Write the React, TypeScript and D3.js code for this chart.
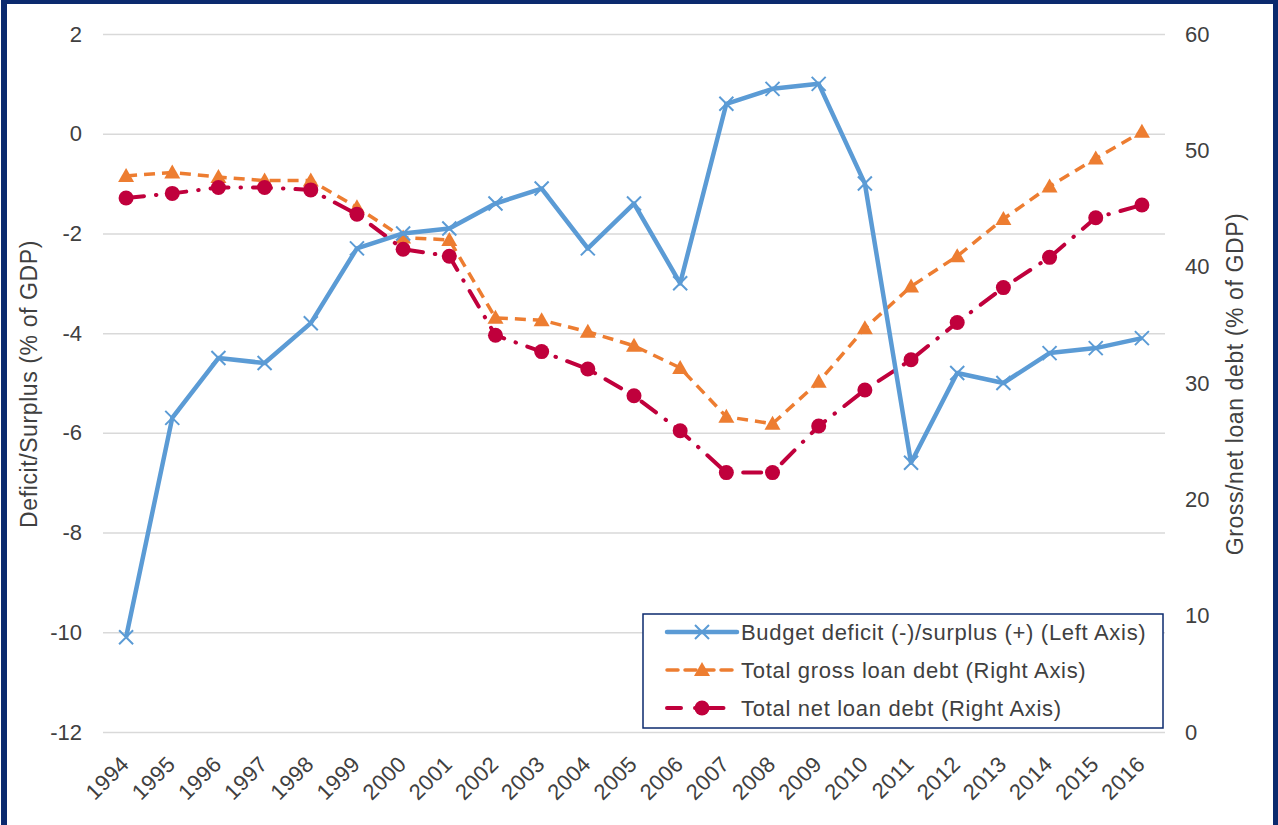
import React, { useEffect, useRef } from "react";
import * as d3 from "d3";

// chart data
const years = ["1994", "1995", "1996", "1997", "1998", "1999", "2000", "2001", "2002", "2003", "2004", "2005", "2006", "2007", "2008", "2009", "2010", "2011", "2012", "2013", "2014", "2015", "2016"];
const budgetBalance = [-10.1, -5.7, -4.5, -4.6, -3.8, -2.3, -2.0, -1.9, -1.4, -1.1, -2.3, -1.4, -3.0, 0.6, 0.9, 1.0, -1.0, -6.6, -4.8, -5.0, -4.4, -4.3, -4.1];
const grossDebt = [47.8, 48.1, 47.7, 47.4, 47.4, 45.1, 42.5, 42.3, 35.6, 35.4, 34.4, 33.2, 31.3, 27.1, 26.5, 30.1, 34.7, 38.3, 40.9, 44.1, 46.9, 49.3, 51.6];
const netDebt = [45.9, 46.3, 46.8, 46.8, 46.6, 44.5, 41.5, 40.9, 34.1, 32.7, 31.2, 28.9, 25.9, 22.3, 22.3, 26.3, 29.4, 32.0, 35.2, 38.2, 40.8, 44.2, 45.3];
const leftTicks = [2, 0, -2, -4, -6, -8, -10, -12];
const rightTicks = [60, 50, 40, 30, 20, 10, 0];
const legendLabels = [
  "Budget deficit (-)/surplus (+) (Left Axis)",
  "Total gross loan debt (Right Axis)",
  "Total net loan debt (Right Axis)",
];

const BLUE = "#5b9bd5";
const ORANGE = "#ed7d31";
const RED = "#c0003c";
const TEXT = "#404040";

const App = () => {
  const ref = useRef<SVGSVGElement>(null);

  useEffect(() => {
    const svg = d3.select(ref.current);
    svg.selectAll("*").remove();

    const W = 1278;
    const H = 825;
    const margin = { top: 34, right: 113, bottom: 93, left: 103 };
    const width = W - margin.left - margin.right;
    const height = H - margin.top - margin.bottom;
    const font = "'Liberation Sans', Arial, sans-serif";

    svg.append("rect").attr("width", W).attr("height", H).attr("fill", "#fff");

    // frame
    svg
      .append("rect")
      .attr("x", 4)
      .attr("y", 1)
      .attr("width", W - 6)
      .attr("height", H + 20)
      .attr("fill", "none")
      .attr("stroke", "#0b2a6e")
      .attr("stroke-width", 6);

    const g = svg.append("g").attr("transform", `translate(${margin.left},${margin.top})`);

    const x = d3.scaleBand().domain(years).range([0, width]);
    const cx = (d: string) => (x(d) as number) + x.bandwidth() / 2;
    const yL = d3.scaleLinear().domain([-12, 2]).range([height, 0]);
    const yR = d3.scaleLinear().domain([0, 60]).range([height, 0]);

    // grid lines
    g.append("g")
      .call(d3.axisLeft(yL).tickValues(leftTicks).tickSize(-width).tickFormat(() => ""))
      .call((s) => s.select(".domain").remove())
      .selectAll("line")
      .attr("stroke", "#d9d9d9")
      .attr("stroke-width", 1.5);

    // left axis labels
    g.append("g")
      .call(d3.axisLeft(yL).tickValues(leftTicks).tickSize(0).tickPadding(21).tickFormat((d) => String(d)))
      .call((s) => s.select(".domain").remove())
      .selectAll("text")
      .attr("font-family", font)
      .attr("font-size", 22)
      .attr("fill", TEXT);

    // right axis labels
    g.append("g")
      .attr("transform", `translate(${width},0)`)
      .call(d3.axisRight(yR).tickValues(rightTicks).tickSize(0).tickPadding(20).tickFormat((d) => String(d)))
      .call((s) => s.select(".domain").remove())
      .selectAll("text")
      .attr("font-family", font)
      .attr("font-size", 22)
      .attr("fill", TEXT);

    // x axis labels
    g.append("g")
      .attr("transform", `translate(0,${height})`)
      .call(d3.axisBottom(x).tickSize(0).tickPadding(0))
      .call((s) => s.select(".domain").remove())
      .selectAll("text")
      .attr("font-family", font)
      .attr("font-size", 22)
      .attr("letter-spacing", 0.4)
      .attr("fill", TEXT)
      .style("text-anchor", "end")
      .attr("x", 0)
      .attr("y", 0)
      .attr("dy", "0.35em")
      .attr("transform", "translate(-1,28) rotate(-45)");

    // axis titles
    svg
      .append("text")
      .attr("transform", `translate(37,${margin.top + height / 2 + 1}) rotate(-90)`)
      .attr("text-anchor", "middle")
      .attr("font-family", font)
      .attr("font-size", 23)
      .attr("letter-spacing", 0.6)
      .attr("fill", TEXT)
      .text("Deficit/Surplus (% of GDP)");

    svg
      .append("text")
      .attr("transform", `translate(1243,${margin.top + height / 2 + 1}) rotate(-90)`)
      .attr("text-anchor", "middle")
      .attr("font-family", font)
      .attr("font-size", 23)
      .attr("letter-spacing", 0.6)
      .attr("fill", TEXT)
      .text("Gross/net loan debt (% of GDP)");

    const line = (vals: number[], y: d3.ScaleLinear<number, number>) =>
      d3.line<number>().x((_, i) => cx(years[i])).y((d) => y(d))(vals);

    const cross = (sel: any, col: string) =>
      sel
        .append("path")
        .attr("d", "M-7,-7L7,7M-7,7L7,-7")
        .attr("stroke", col)
        .attr("stroke-width", 2)
        .attr("fill", "none");
    const triangle = (sel: any, col: string) =>
      sel.append("path").attr("d", "M0,-8L8,6L-8,6Z").attr("fill", col);
    const dot = (sel: any, col: string) =>
      sel.append("circle").attr("r", 7.5).attr("fill", col);

    // gross debt
    g.append("path")
      .attr("d", line(grossDebt, yR))
      .attr("fill", "none")
      .attr("stroke", ORANGE)
      .attr("stroke-width", 3.5)
      .attr("stroke-dasharray", "11,7");
    grossDebt.forEach((v, i) => {
      triangle(g.append("g").attr("transform", `translate(${cx(years[i])},${yR(v)})`), ORANGE);
    });

    // net debt
    g.append("path")
      .attr("d", line(netDebt, yR))
      .attr("fill", "none")
      .attr("stroke", RED)
      .attr("stroke-width", 4)
      .attr("stroke-linecap", "round")
      .attr("stroke-dasharray", "18,12,0.5,12");
    netDebt.forEach((v, i) => {
      dot(g.append("g").attr("transform", `translate(${cx(years[i])},${yR(v)})`), RED);
    });

    // budget balance
    g.append("path")
      .attr("d", line(budgetBalance, yL))
      .attr("fill", "none")
      .attr("stroke", BLUE)
      .attr("stroke-width", 4.5)
      .attr("stroke-linejoin", "round");
    budgetBalance.forEach((v, i) => {
      cross(g.append("g").attr("transform", `translate(${cx(years[i])},${yL(v)})`), BLUE);
    });

    // legend
    const lg = svg.append("g").attr("transform", "translate(643,614)");
    lg.append("rect")
      .attr("width", 520)
      .attr("height", 114)
      .attr("fill", "#fff")
      .attr("stroke", "#0b2a6e")
      .attr("stroke-width", 1.5);

    const styles = [
      { col: BLUE, w: 4.5, dash: null, mark: cross },
      { col: ORANGE, w: 3.5, dash: "11,7", mark: triangle },
      { col: RED, w: 4, dash: "14,14,0.5,14", mark: dot },
    ];
    legendLabels.forEach((label, i) => {
      const row = lg.append("g").attr("transform", `translate(0,${18 + i * 38})`);
      const st = styles[i];
      row
        .append("line")
        .attr("x1", 24)
        .attr("x2", 94)
        .attr("stroke", st.col)
        .attr("stroke-width", st.w)
        .attr("stroke-linecap", "round")
        .attr("stroke-dasharray", st.dash);
      st.mark(row.append("g").attr("transform", "translate(59,0)"), st.col);
      row
        .append("text")
        .attr("x", 98)
        .attr("dy", "0.35em")
        .attr("font-family", font)
        .attr("font-size", 22)
        .attr("letter-spacing", 0.7)
        .attr("fill", TEXT)
        .text(label);
    });
  }, []);

  return (
    <svg
      ref={ref}
      width={1278}
      height={825}
      style={{ position: "fixed", left: 0, top: 0 }}
    />
  );
};

export default App;
